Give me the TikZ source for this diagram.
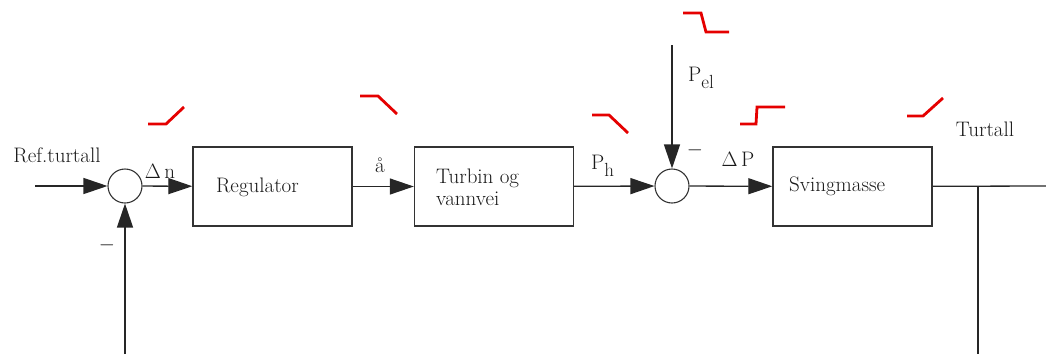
\documentclass[tikz,border=0pt]{standalone}
\usetikzlibrary{arrows.meta}
\begin{document}
\begin{tikzpicture}[x=1pt,y=-1pt,
  blk/.style={draw=black!80,line width=1.4pt,minimum width=159pt,minimum height=79pt,inner sep=0pt},
  sumc/.style={draw=black!80,line width=1.1pt,circle,minimum size=34pt,inner sep=0pt},
  conn/.style={line width=1.3pt,draw=black!85},
  arr/.style={conn,-{Triangle[length=24pt,width=16pt]}},
  lbl/.style={font=\fontsize{21}{25}\selectfont,inner sep=0pt,text=black!90},
  sig/.style={draw=red!90!black,line width=2.8pt}]
\useasboundingbox (0,0) rectangle (1046,354);
% nodes
\node[sumc] (s1) at (125,186) {};
\node[sumc] (s2) at (672,186) {};
\node[blk] (reg) at (272.5,186.5) {};
\node[blk] (tur) at (494,186.5) {};
\node[blk] (svm) at (852.5,186.5) {};
\coordinate (in) at (35,186);
\coordinate (pel) at (672,45);
\coordinate (out) at (1046,186);
\coordinate (br) at (978,186);
\coordinate (brb) at (978,354);
\coordinate (fbb) at (125,354);
% texts
\node[lbl,anchor=west] (t1) at (216,187) {Regulator};
\node[lbl,anchor=west,align=left] (t2) at (436,187) {Turbin og\\[-3pt]vannvei};
\node[lbl,anchor=west] (t3) at (789,186) {Svingmasse};
\node[lbl] (lref) at (57,155) {Ref.turtall};
\node[lbl] (ldn) at (160,171) {$\Delta$\,n};
\node[lbl] (la) at (380,165) {å};
\node[lbl,anchor=west] (lph) at (591,166) {P\raisebox{-7pt}{\fontsize{19}{21}\selectfont h}};
\node[lbl,anchor=west] (lpel) at (688,78) {P\raisebox{-7pt}{\fontsize{19}{21}\selectfont el}};
\node[lbl] (ldp) at (738,159) {$\Delta$\,P};
\node[lbl] (ltur) at (985,129) {Turtall};
\node[lbl] (m1) at (695,150) {$-$};
\node[lbl] (m2) at (107,245) {$-$};
% connectors
\draw[arr] (in) -- (s1);
\draw[arr] (s1) -- (reg);
\draw[arr] (reg) -- (tur);
\draw[arr] (tur) -- (s2);
\draw[arr] (pel) -- (s2);
\draw[arr] (s2) -- (svm);
\draw[conn] (svm) -- (out);
\draw[conn] (br) -- (brb);
\draw[arr] (fbb) -- (s1);
% red signal sketches
\draw[sig] (148,124) -- (166,124) -- (184,107);
\draw[sig] (360,96) -- (378,96) -- (397,114);
\draw[sig] (592,115) -- (609,115) -- (628,133);
\draw[sig] (683,13) -- (701,13) -- (706,32) -- (729,32);
\draw[sig] (740,124) -- (756,124) -- (757,107) -- (785,107);
\draw[sig] (907,116) -- (923,116) -- (943,98);
\end{tikzpicture}
\end{document}
